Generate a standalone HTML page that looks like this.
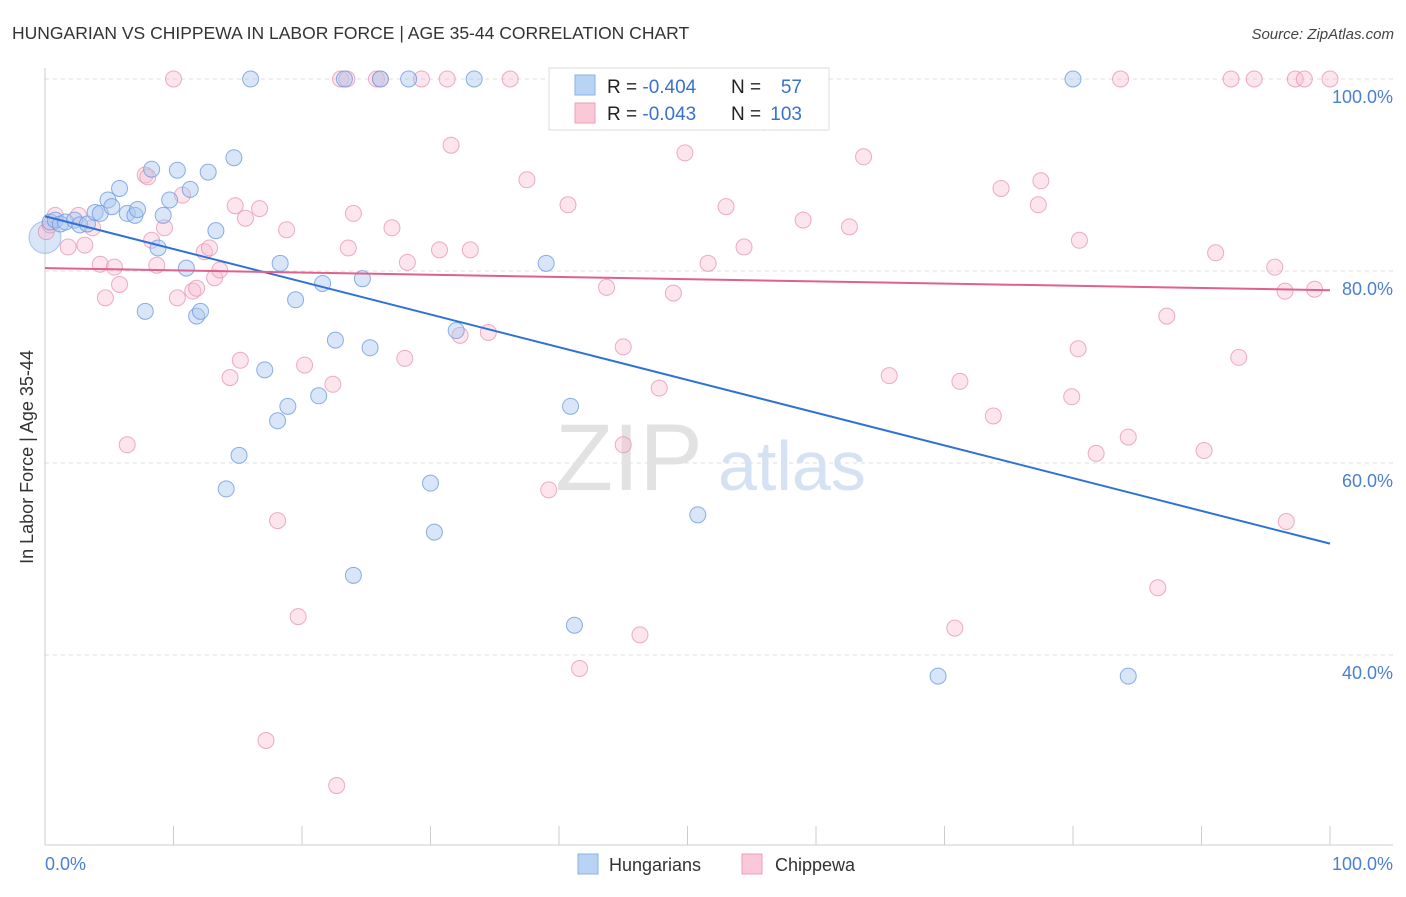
<!DOCTYPE html>
<html><head><meta charset="utf-8"><style>
body{margin:0;background:#fff;font-family:"Liberation Sans",sans-serif;}
svg text{font-family:"Liberation Sans",sans-serif;}
</style></head><body>
<svg id="chart" width="1406" height="892" viewBox="0 0 1406 892" xmlns="http://www.w3.org/2000/svg">
<text x="12" y="39" font-size="17.5" fill="#333">HUNGARIAN VS CHIPPEWA IN LABOR FORCE | AGE 35-44 CORRELATION CHART</text>
<text x="1394" y="39" font-size="15" fill="#444" text-anchor="end" font-style="italic">Source: ZipAtlas.com</text>
<g id="grid"></g>
<text x="555" y="490" font-size="95" font-family="Liberation Serif" fill="#e2e2e2">ZIP</text>
<text x="718" y="490" font-size="70" fill="#d5e2f3">atlas</text>
<g id="marks"></g>
<text transform="translate(33,457) rotate(-90)" font-size="18" fill="#333" text-anchor="middle">In Labor Force | Age 35-44</text>
<text x="45" y="870" font-size="18" fill="#4a7fd4">0.0%</text>
<text x="1393" y="870" font-size="18" fill="#4a7fd4" text-anchor="end">100.0%</text>
<g>
<rect x="549" y="68" width="280" height="62" fill="#fff" stroke="#ddd"/>
<rect x="575" y="75" width="20" height="20" fill="#b8d3f3" stroke="#8ab0e4"/>
<rect x="575" y="103" width="20" height="20" fill="#fbc8d8" stroke="#eba0b8"/>
<text x="607" y="93" font-size="19" fill="#222">R = <tspan fill="#3a70d0">-0.404</tspan></text>
<text x="731" y="93" font-size="19" fill="#222">N =</text><text x="802" y="93" font-size="19" fill="#3a70d0" text-anchor="end">57</text>
<text x="607" y="120" font-size="19" fill="#222">R = <tspan fill="#3a70d0">-0.043</tspan></text>
<text x="731" y="120" font-size="19" fill="#222">N =</text><text x="802" y="120" font-size="19" fill="#3a70d0" text-anchor="end">103</text>
</g>
<g>
<rect x="578" y="854" width="20" height="20" fill="#b8d3f3" stroke="#8ab0e4"/>
<text x="609" y="871" font-size="18" fill="#333">Hungarians</text>
<rect x="742" y="854" width="20" height="20" fill="#fbc8d8" stroke="#eba0b8"/>
<text x="775" y="871" font-size="18" fill="#333">Chippewa</text>
</g>
</svg>
<script>
const yTicks=[40,60,80,100];
const yTickLabels=["40.0%","60.0%","80.0%","100.0%"];
const hungarians=[[0.4,85.1],[0.8,85.3],[1.2,84.9],[1.6,85.1],[2.3,85.3],[2.7,84.8],[3.3,84.9],[3.9,86.1],[4.3,86.0],[4.9,87.4],[5.2,86.7],[5.8,88.6],[6.4,86.0],[7.0,85.8],[7.2,86.4],[7.8,75.8],[8.3,90.6],[8.8,82.4],[9.2,85.8],[9.7,87.4],[10.3,90.5],[11.0,80.3],[11.3,88.5],[11.8,75.3],[12.1,75.8],[12.7,90.3],[13.3,84.2],[14.1,57.3],[14.7,91.8],[15.1,60.8],[16.0,100],[17.1,69.7],[18.1,64.4],[18.3,80.8],[18.9,65.9],[19.5,77.0],[21.3,67.0],[21.6,78.7],[22.6,72.8],[23.3,100],[24.0,48.3],[24.7,79.2],[25.3,72.0],[26.1,100],[28.3,100],[30.0,57.9],[30.3,52.8],[32.0,73.8],[33.4,100],[39.0,80.8],[40.9,65.9],[41.2,43.1],[50.8,54.6],[53.8,100],[69.5,37.8],[80.0,100],[84.3,37.8]];
const chippewa=[[0.1,84.1],[0.4,84.8],[0.8,85.8],[1.8,82.5],[2.6,85.8],[3.1,82.7],[3.7,84.5],[4.3,80.7],[4.7,77.2],[5.4,80.4],[5.8,78.6],[6.4,61.9],[7.8,90.0],[8.0,89.8],[8.3,83.2],[8.7,80.6],[9.3,84.5],[10.0,100],[10.3,77.2],[10.7,87.9],[11.5,77.9],[11.8,78.2],[12.4,82.0],[12.8,82.4],[13.2,79.3],[13.6,80.1],[14.4,68.9],[14.8,86.8],[15.2,70.7],[15.6,85.5],[16.7,86.5],[17.2,31.1],[18.1,54.0],[18.8,84.3],[19.7,44.0],[20.2,70.2],[22.4,68.2],[22.7,26.4],[23.0,100],[23.5,100],[23.6,82.4],[24.0,86.0],[25.8,100],[26.1,100],[27.0,84.5],[28.0,70.9],[28.2,80.9],[29.3,100],[30.7,82.2],[31.3,100],[31.6,93.1],[32.3,73.3],[33.1,82.2],[34.5,73.6],[36.2,100],[37.5,89.5],[39.2,57.2],[40.7,86.9],[41.6,38.6],[43.7,78.3],[45.0,72.1],[45.0,61.9],[45.7,100],[46.3,42.1],[47.8,67.8],[48.9,77.7],[49.8,92.3],[51.6,80.8],[53.0,86.7],[54.4,82.5],[55.9,95.5],[59.0,85.3],[62.6,84.6],[63.7,91.9],[65.7,69.1],[70.8,42.8],[71.2,68.5],[73.8,64.9],[74.4,88.6],[77.3,86.9],[77.5,89.4],[79.9,66.9],[80.4,71.9],[80.5,83.2],[81.8,61.0],[83.7,100],[84.3,62.7],[86.6,47.0],[87.3,75.3],[90.2,61.3],[91.1,81.9],[92.3,100],[92.9,71.0],[94.1,100],[95.7,80.4],[96.5,77.9],[96.6,53.9],[97.3,100],[98.0,100],[98.8,78.1],[100,100]];
const hungTrend=[85.7,51.6];
const chipTrend=[80.3,78.0];
const NS="http://www.w3.org/2000/svg";
const X=v=>45+v*12.85;
const Y=v=>79+(100-v)*9.6;
function mk(tag,attrs,parent){const e=document.createElementNS(NS,tag);for(const k in attrs)e.setAttribute(k,attrs[k]);parent.appendChild(e);return e;}
const grid=document.getElementById('grid');
yTicks.forEach((t,i)=>{
 const l=mk('line',{x1:45,x2:1393,y1:Y(t),y2:Y(t),stroke:'#dcdcdc','stroke-dasharray':'4,4'},grid);
 
 
 const tx=mk('text',{x:1393,y:Y(t)+24,'font-size':18,fill:'#4a7fd4','text-anchor':'end'},grid);
 tx.textContent=yTickLabels[i];
 
 
});
const ax=mk('line',{x1:45,x2:45,y1:68,y2:845,stroke:'#ccc'},grid);


const bx=mk('line',{x1:45,x2:1393,y1:845,y2:845,stroke:'#ccc'},grid);


for(let i=1;i<=10;i++){
 const t=mk('line',{x1:X(i*10),x2:X(i*10),y1:826,y2:845,stroke:'#ccc'},grid);
 
 
}
const marks=document.getElementById('marks');
const big=mk('circle',{cx:X(0),cy:Y(83.5),r:16,fill:'rgba(170,200,240,0.45)',stroke:'rgba(120,160,225,0.6)'},marks);


chippewa.forEach(p=>{
 const c=mk('circle',{cx:X(p[0]),cy:Y(p[1]),r:8,fill:'rgba(248,190,210,0.4)',stroke:'rgba(230,140,170,0.7)'},marks);
 
 
});
hungarians.forEach(p=>{
 const c=mk('circle',{cx:X(p[0]),cy:Y(p[1]),r:8,fill:'rgba(170,200,240,0.45)',stroke:'rgba(110,155,225,0.8)'},marks);
 
 
});
const t1=mk('line',{x1:X(0),y1:Y(hungTrend[0]),x2:X(100),y2:Y(hungTrend[1]),stroke:'#2f72d6','stroke-width':2},marks);


const t2=mk('line',{x1:X(0),y1:Y(chipTrend[0]),x2:X(100),y2:Y(chipTrend[1]),stroke:'#e0608e','stroke-width':2},marks);


</script>
</body></html>
